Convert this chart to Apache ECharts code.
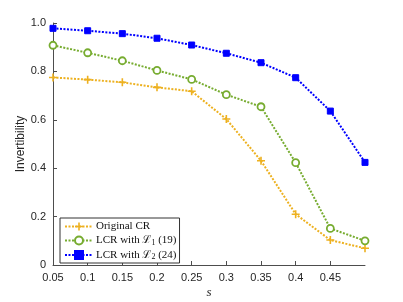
<!DOCTYPE html>
<html><head><meta charset="utf-8">
<script src="https://cdn.jsdelivr.net/npm/echarts@6/dist/echarts.min.js"></script>
<style>html,body{margin:0;padding:0;background:#fff}#c{width:403px;height:302px}</style>
</head><body><div id="c"></div>
<script>
const sValues = [0.05, 0.1, 0.15, 0.2, 0.25, 0.3, 0.35, 0.4, 0.45, 0.5];
const originalCR = [0.775, 0.766, 0.755, 0.734, 0.718, 0.603, 0.431, 0.21, 0.103, 0.069];
const lcrL1 = [0.908, 0.877, 0.844, 0.804, 0.767, 0.704, 0.654, 0.423, 0.151, 0.1];
const lcrL2 = [0.978, 0.968, 0.956, 0.937, 0.909, 0.875, 0.836, 0.774, 0.636, 0.424];
const seriesNames = ['Original CR', 'LCR with ℒ₁ (19)', 'LCR with ℒ₂ (24)'];
const yTicks = ['0', '0.2', '0.4', '0.6', '0.8', '1.0'];

const pair = arr => sValues.map((s, i) => [s, arr[i]]);
const plusPath = 'path://M4,0H6V4H10V6H6V10H4V6H0V4H4Z';

const chart = echarts.init(document.getElementById('c'), null, {renderer: 'canvas'});
const axisCol = '#4d4d4d';
const labelCol = '#262626';
chart.setOption({
  animation: false,
  grid: {left: 53, right: 38, top: 23, bottom: 37, containLabel: false, outerBoundsMode: 'none'},
  xAxis: {
    type: 'value', min: 0.05, max: 0.5, interval: 0.05,
    name: 's', nameLocation: 'middle', nameGap: 21, nameMoveOverlap: false,
    nameTextStyle: {fontFamily: 'Liberation Serif', fontStyle: 'italic', fontSize: 13, color: labelCol},
    axisLine: {lineStyle: {color: axisCol, width: 1}},
    axisTick: {inside: true, length: 4, lineStyle: {color: axisCol}},
    splitLine: {show: false},
    axisLabel: {
      fontFamily: 'Liberation Sans', fontSize: 11, color: labelCol, margin: 7,
      showMaxLabel: false,
      formatter: v => v > 0.49 ? '' : String(+v.toFixed(2))
    }
  },
  yAxis: {
    type: 'value', min: 0, max: 1, interval: 0.2,
    name: 'Invertibility', nameLocation: 'middle', nameGap: 26, nameMoveOverlap: false,
    nameTextStyle: {fontFamily: 'Liberation Sans', fontSize: 12, color: labelCol},
    axisLine: {show: true, lineStyle: {color: axisCol, width: 1}},
    axisTick: {show: true, inside: true, length: 4, lineStyle: {color: axisCol}},
    splitLine: {show: false},
    axisLabel: {
      fontFamily: 'Liberation Sans', fontSize: 11, color: labelCol, margin: 7,
      formatter: v => yTicks[Math.round(v / 0.2)]
    }
  },
  legend: {
    orient: 'vertical', left: 60, top: 218,
    padding: [3, 3, 2, 4], itemGap: 3, itemWidth: 28, itemHeight: 10,
    borderColor: '#333', borderWidth: 1, borderRadius: 0, backgroundColor: '#fff',
    data: seriesNames,
    formatter: function (n) {
      if (n === seriesNames[1]) return '{a|LCR with ℒ}{sub|1}{a| (19)}';
      if (n === seriesNames[2]) return '{a|LCR with ℒ}{sub|2}{a| (24)}';
      return '{a|' + n + '}';
    },
    textStyle: {
      fontFamily: 'Liberation Serif', fontSize: 11, color: '#111', padding: [0, 0, 0, -2],
      rich: {
        a: {fontFamily: 'Liberation Serif', fontSize: 11, color: '#111'},
        sub: {fontFamily: 'Liberation Serif', fontSize: 8, color: '#111', verticalAlign: 'bottom', padding: [4, 0, 0, 0]}
      }
    }
  },
  series: [
    {
      name: seriesNames[0], type: 'line', data: pair(originalCR),
      symbol: plusPath, symbolSize: 8, showAllSymbol: true,
      lineStyle: {color: '#EDB120', width: 2, type: [2, 1.5]},
      itemStyle: {color: '#EDB120'}, z: 2
    },
    {
      name: seriesNames[1], type: 'line', data: pair(lcrL1),
      symbol: 'circle', symbolSize: 7, showAllSymbol: true,
      lineStyle: {color: '#77AC30', width: 2, type: [2, 1.5]},
      itemStyle: {color: '#fff', borderColor: '#77AC30', borderWidth: 1.8}, z: 3
    },
    {
      name: seriesNames[2], type: 'line', data: pair(lcrL2),
      symbol: 'rect', symbolSize: 6, showAllSymbol: true,
      lineStyle: {color: '#0000FF', width: 2, type: [2, 1.5]},
      itemStyle: {color: '#0000FF', borderColor: '#0000FF', borderWidth: 1}, z: 4
    }
  ]
});
</script></body></html>
